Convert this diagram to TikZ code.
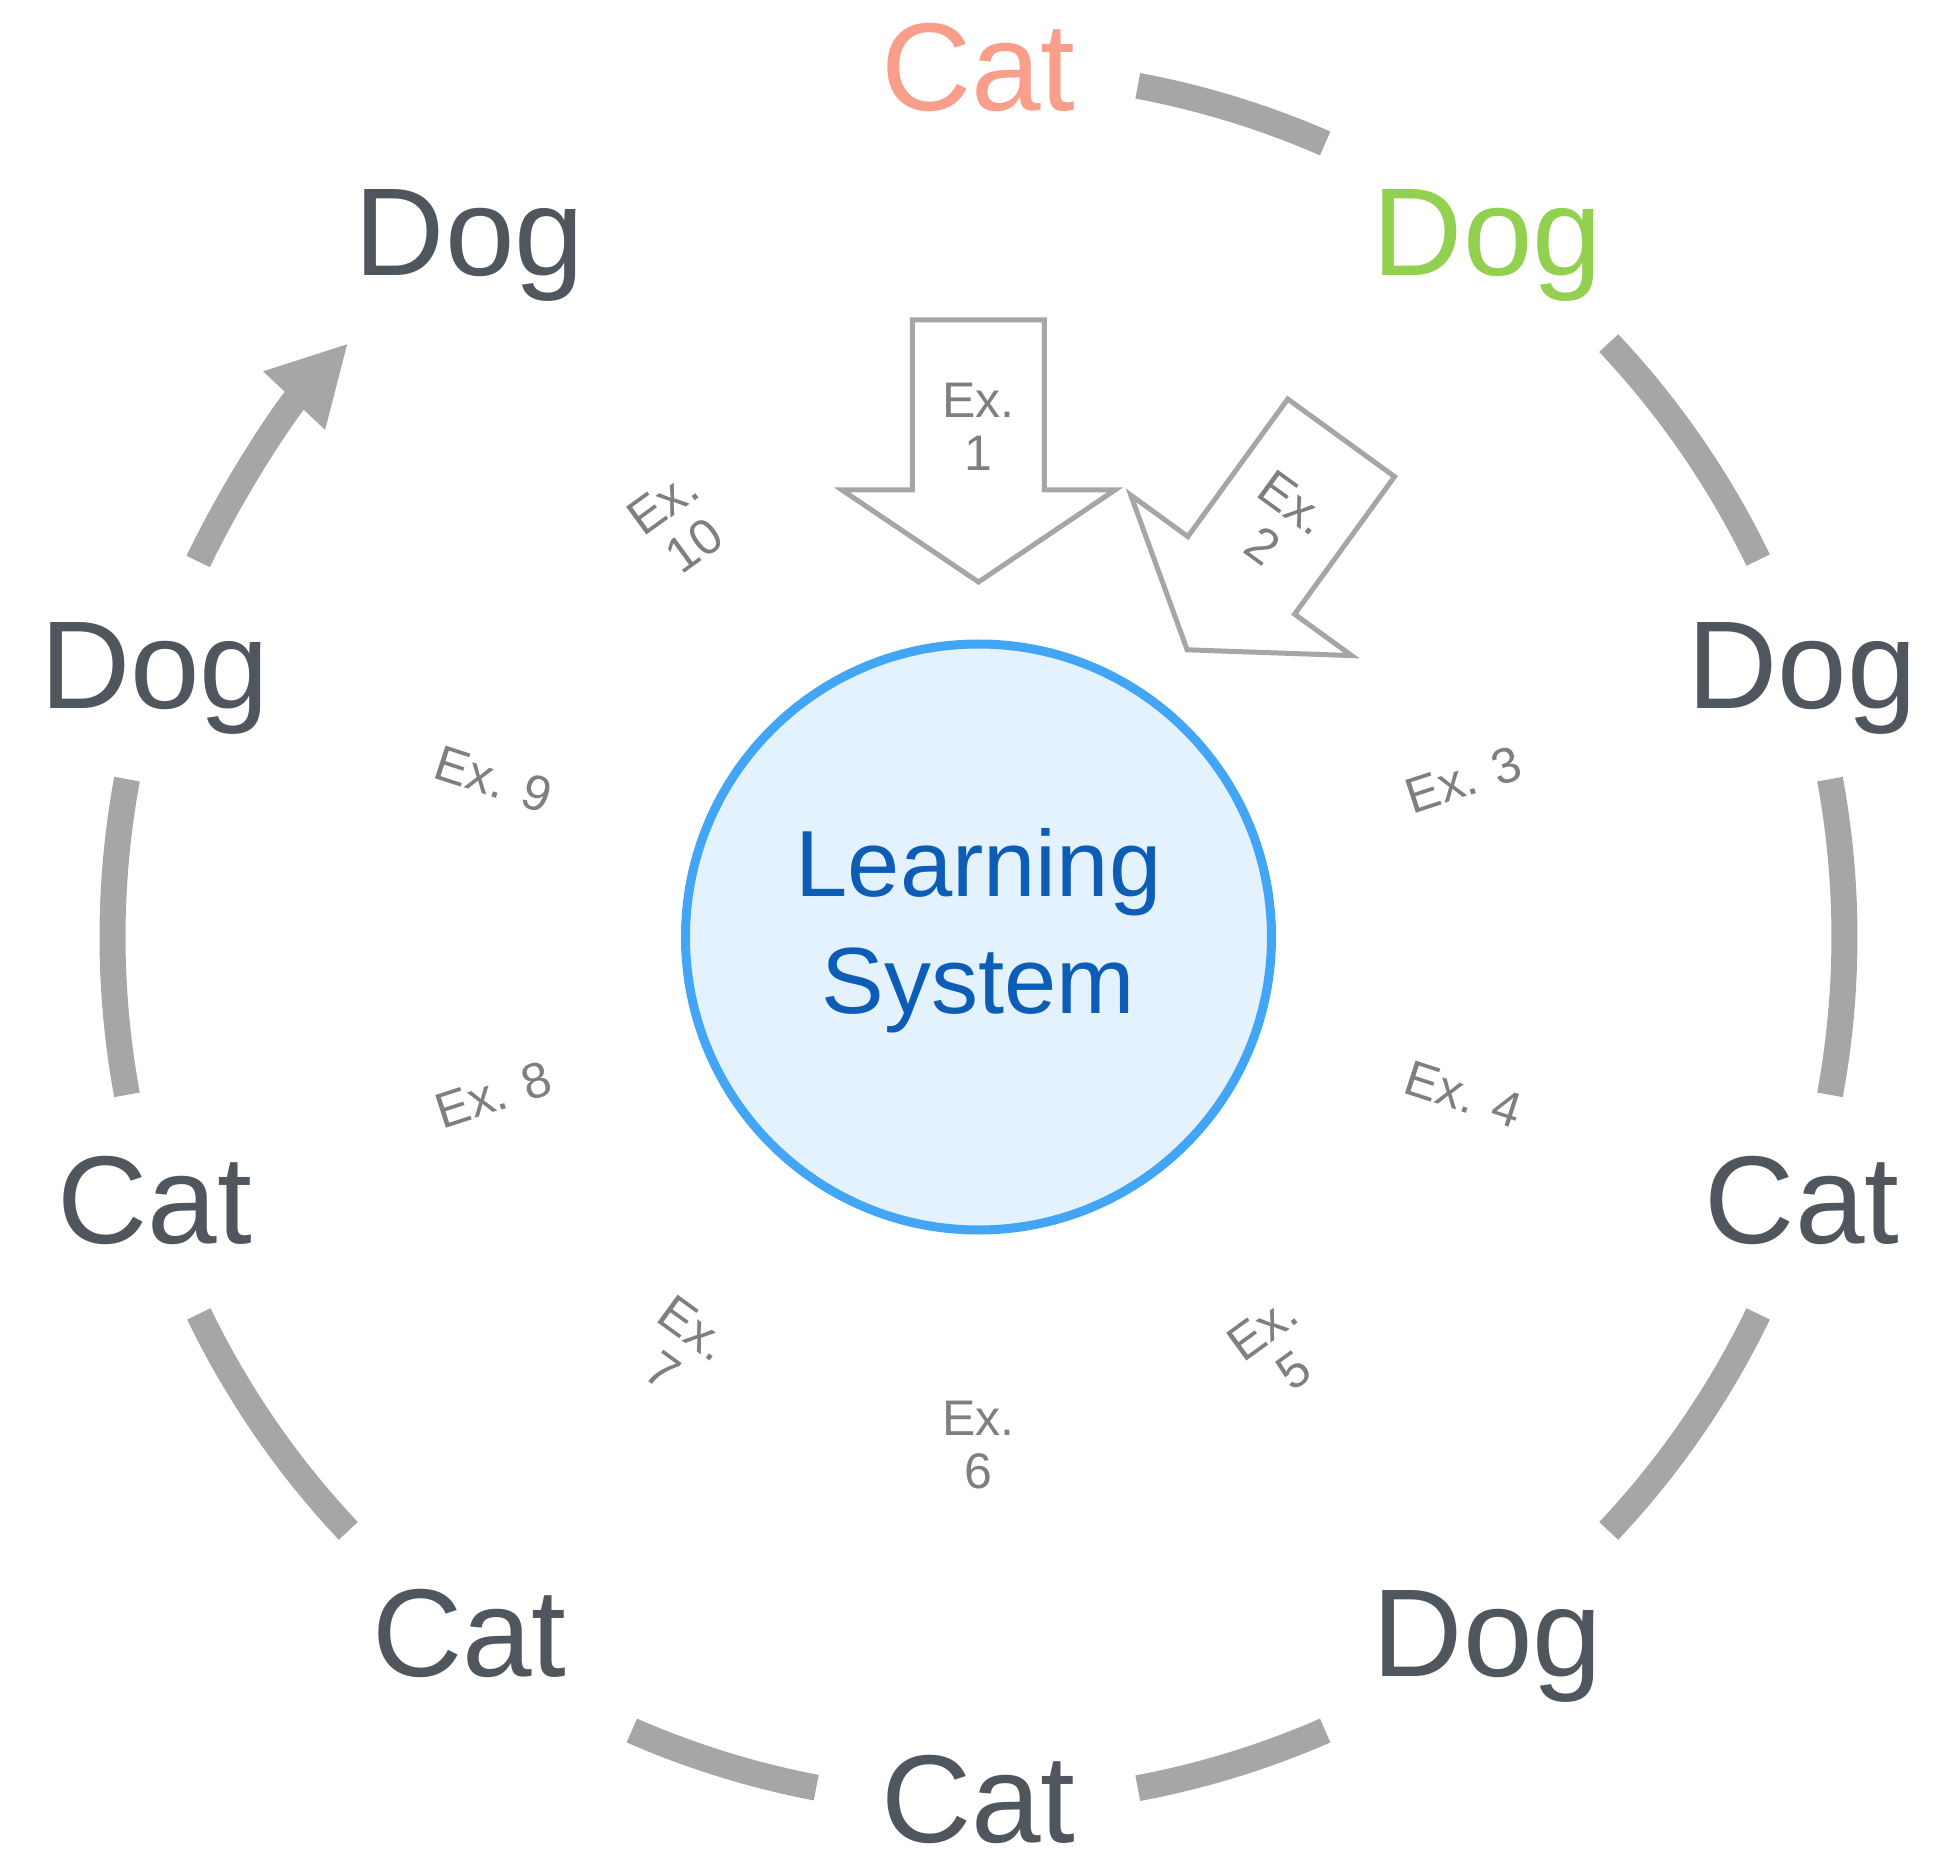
\documentclass[tikz,border=0pt]{standalone}
\usepackage{fontspec}
\setmainfont{Liberation Sans}
\usetikzlibrary{arrows.meta}
\definecolor{arcgray}{HTML}{A6A6A6}
\definecolor{labgray}{HTML}{50565D}
\definecolor{exgray}{HTML}{7F7F7F}
\definecolor{catred}{HTML}{F99E8B}
\definecolor{doggreen}{HTML}{92D050}
\definecolor{sysblue}{HTML}{42A5F5}
\definecolor{sysfill}{HTML}{E3F2FD}
\definecolor{systext}{HTML}{0D5CB6}
\begin{document}
\begin{tikzpicture}[x=1pt,y=1pt,
  lab/.style={font=\fontsize{125}{150}\selectfont, text=labgray, inner sep=0pt, text height=113pt, text depth=26.5pt, yshift=4pt},
  exlab/.style={font=\fontsize{50}{53}\selectfont, text=exgray, align=center, inner sep=0pt},
  flow/.style={draw=arcgray, line width=26pt},
  exarrow/.style={draw=arcgray, line width=5pt, fill=white, line join=miter},
]
\useasboundingbox (-978.5,-913) rectangle (978.5,937);

% central learning system
\node[circle, draw=sysblue, fill=sysfill, line width=9pt, minimum size=586pt, inner sep=0pt] (sys) at (0,0) {};
\node[font=\fontsize{94}{117}\selectfont, text=systext, align=center, inner sep=0pt] (systxt) at ([yshift=6pt]sys.center) {Learning\\System};

% example arrows
\draw[exarrow] (-66,617) -- (66,617) -- (66,447) -- (136.5,447) -- (0,355) -- (-136.5,447) -- (-66,447) -- cycle;
\begin{scope}[rotate=-36]
\draw[exarrow] (-66,617) -- (66,617) -- (66,447) -- (136.5,447) -- (0,355) -- (-136.5,447) -- (-66,447) -- cycle;
\end{scope}

% example labels
\node[exlab] (e1) at (90:510) {Ex.\\1};
\node[exlab, rotate=-36] (e2) at (54:510) {Ex.\\2};
\node[exlab, rotate=18] (e3) at (18:510) {Ex. 3};
\node[exlab, rotate=-18] (e4) at (-18:510) {Ex. 4};
\node[exlab, rotate=36] (e5) at (-54:510) {Ex.\\5};
\node[exlab] (e6) at (-90:508) {Ex.\\6};
\node[exlab, rotate=-36] (e7) at (-126:510) {Ex.\\7};
\node[exlab, rotate=18] (e8) at (-162:510) {Ex. 8};
\node[exlab, rotate=-18] (e9) at (162:510) {Ex. 9};
\node[exlab, rotate=36] (e10) at (126:510) {Ex.\\10};

% outer labels
\node[lab, text=catred] (l0) at (90:866) {Cat};
\node[lab, text=doggreen] (l1) at (54:866) {Dog};
\node[lab] (l2) at (18:866) {Dog};
\node[lab] (l3) at (-18:866) {Cat};
\node[lab] (l4) at (-54:866) {Dog};
\node[lab] (l5) at (-90:866) {Cat};
\node[lab] (l6) at (-126:866) {Cat};
\node[lab] (l7) at (-162:866) {Cat};
\node[lab] (l8) at (162:866) {Dog};
\node[lab] (l9) at (126:866) {Dog};

% flow arcs
\foreach \n/\a/\b in {1/79.4/66.4, 2/43.3/25.8, 3/10.5/-10.5, 4/-25.8/-43.3, 5/-66.4/-79.4,
                      6/-100.8/-113.6, 7/-136.7/-154.2, 8/-169.5/-190.5}{
  \coordinate (s\n) at (\a:866);
  \draw[flow] (s\n) arc[start angle=\a, end angle=\b, radius=866];
}
\coordinate (s9) at (154.3:866);
\draw[flow, -{Triangle[length=79pt, width=79pt]}] (s9) arc[start angle=154.3, end angle=136.7, radius=866];
\end{tikzpicture}
\end{document}
